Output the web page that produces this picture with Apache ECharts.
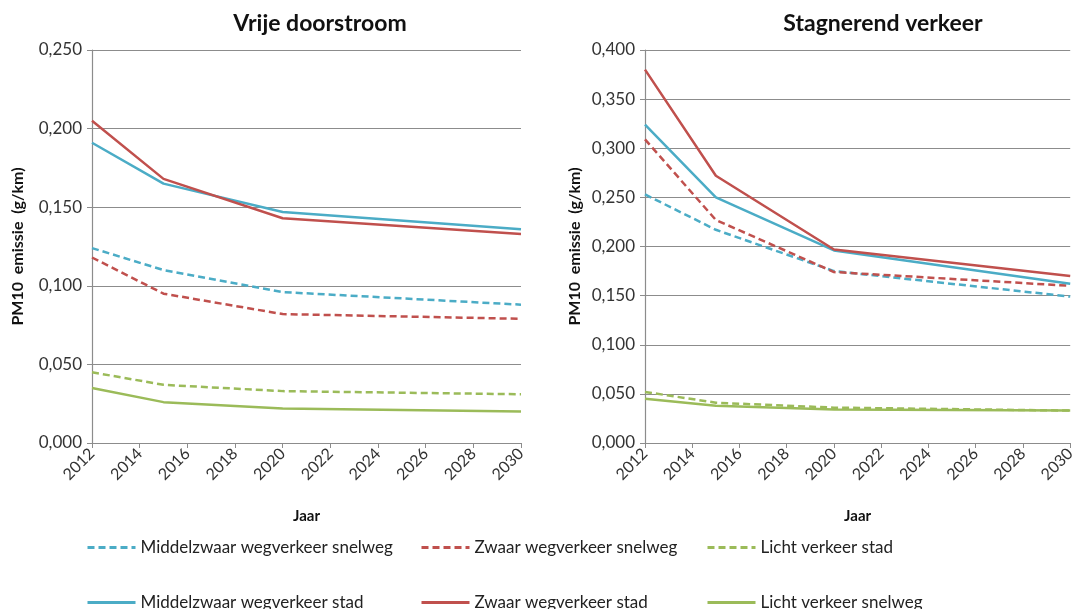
<!DOCTYPE html>
<html>
<head>
<meta charset="utf-8">
<script src="https://cdn.jsdelivr.net/npm/echarts@6/dist/echarts.min.js"></script>
<style>
  html, body { margin: 0; padding: 0; background: #fff; }
  #chart { width: 1078px; height: 609px; }
</style>
</head>
<body>
<div id="chart"></div>
<script>
// jaren met meetpunten
const years = [2012, 2015, 2020, 2030];

// Vrije doorstroom (g/km)
const vrijMiddelSnelweg = [0.124, 0.110, 0.096, 0.088];
const vrijZwaarSnelweg = [0.118, 0.095, 0.082, 0.079];
const vrijLichtStad = [0.045, 0.037, 0.033, 0.031];
const vrijMiddelStad = [0.191, 0.165, 0.147, 0.136];
const vrijZwaarStad = [0.205, 0.168, 0.143, 0.133];
const vrijLichtSnelweg = [0.035, 0.026, 0.022, 0.020];

// Stagnerend verkeer (g/km)
const stagMiddelSnelweg = [0.253, 0.217, 0.175, 0.149];
const stagZwaarSnelweg = [0.309, 0.227, 0.174, 0.160];
const stagLichtStad = [0.052, 0.041, 0.036, 0.033];
const stagMiddelStad = [0.324, 0.250, 0.196, 0.162];
const stagZwaarStad = [0.380, 0.272, 0.197, 0.170];
const stagLichtSnelweg = [0.045, 0.038, 0.034, 0.033];

const names = [
  'Middelzwaar wegverkeer snelweg',
  'Zwaar wegverkeer snelweg',
  'Licht verkeer stad',
  'Middelzwaar wegverkeer stad',
  'Zwaar wegverkeer stad',
  'Licht verkeer snelweg'
];

const blue = '#4BACC6';
const red = '#C0504D';
const green = '#9BBB59';
const colors = [blue, red, green, blue, red, green];
const dashed = [true, true, true, false, false, false];

const font = 'Lato, "Open Sans", sans-serif';
const textColor = '#333';
const gridColor = '#8c8c8c';

function makeSeries(sets, gridIdx) {
  return sets.map((vals, i) => ({
    name: names[i],
    type: 'line',
    xAxisIndex: gridIdx,
    yAxisIndex: gridIdx,
    symbol: 'none',
    silent: true,
    color: colors[i],
    lineStyle: {
      width: 2.5,
      color: colors[i],
      type: dashed[i] ? [7, 4] : 'solid'
    },
    data: years.map((y, k) => [y, vals[k]])
  }));
}

function xAxis(gridIdx) {
  return {
    type: 'value',
    gridIndex: gridIdx,
    min: 2012,
    max: 2030,
    interval: 2,
    name: 'Jaar',
    nameLocation: 'middle',
    nameGap: 66,
    nameTextStyle: { fontFamily: font, fontWeight: 'bold', fontSize: 15, color: '#111' },
    axisLine: { lineStyle: { color: gridColor, width: 1.2 } },
    axisTick: { show: true, length: 5, lineStyle: { color: gridColor } },
    splitLine: { show: false },
    axisLabel: {
      rotate: 45,
      fontFamily: font,
      fontSize: 16,
      color: textColor,
      margin: 8,
      formatter: v => String(v)
    }
  };
}

function yAxis(gridIdx, max, nameGap) {
  return {
    type: 'value',
    gridIndex: gridIdx,
    min: 0,
    max: max,
    interval: 0.05,
    name: 'PM10  emissie  (g/km)',
    nameLocation: 'middle',
    nameGap: nameGap,
    nameTextStyle: { fontFamily: font, fontWeight: 'bold', fontSize: 16, color: '#111' },
    axisLine: { show: true, lineStyle: { color: gridColor, width: 1.2 } },
    axisTick: { show: true, length: 5, lineStyle: { color: gridColor } },
    splitLine: { show: true, lineStyle: { color: gridColor, width: 1 } },
    axisLabel: {
      fontFamily: font,
      fontSize: 17,
      color: textColor,
      margin: 10,
      formatter: v => v.toFixed(3).replace('.', ',')
    }
  };
}

// een legenda per item, zodat de posities vastliggen
const legendPos = [
  [81, 534], [415, 534], [701, 534],
  [81, 589], [415, 589], [701, 589]
];
const legends = names.map((n, i) => ({
  data: [n],
  left: legendPos[i][0],
  top: legendPos[i][1],
  itemWidth: 48,
  itemHeight: 14,
  selectedMode: false,
  itemStyle: { opacity: 0 },
  lineStyle: { width: 3 },
  textStyle: { fontFamily: font, fontSize: 17, color: '#222' }
}));

const chart = echarts.init(document.getElementById('chart'), null, { renderer: 'canvas' });
chart.setOption({
  animation: false,
  backgroundColor: '#fff',
  title: [
    {
      text: 'Vrije doorstroom',
      left: 315, top: 7, textAlign: 'center',
      textStyle: { fontFamily: font, fontWeight: 'bold', fontSize: 23, color: '#111' }
    },
    {
      text: 'Stagnerend verkeer',
      left: 878, top: 7, textAlign: 'center',
      textStyle: { fontFamily: font, fontWeight: 'bold', fontSize: 23, color: '#111' }
    }
  ],
  legend: legends,
  grid: [
    { left: 92, right: 557, top: 50, bottom: 166 },
    { left: 645, right: 2, top: 50, bottom: 166 }
  ],
  xAxis: [xAxis(0), xAxis(1)],
  yAxis: [yAxis(0, 0.25, 66), yAxis(1, 0.4, 62)],
  series: [
    ...makeSeries([vrijMiddelSnelweg, vrijZwaarSnelweg, vrijLichtStad, vrijMiddelStad, vrijZwaarStad, vrijLichtSnelweg], 0),
    ...makeSeries([stagMiddelSnelweg, stagZwaarSnelweg, stagLichtStad, stagMiddelStad, stagZwaarStad, stagLichtSnelweg], 1)
  ]
});
</script>
</body>
</html>
